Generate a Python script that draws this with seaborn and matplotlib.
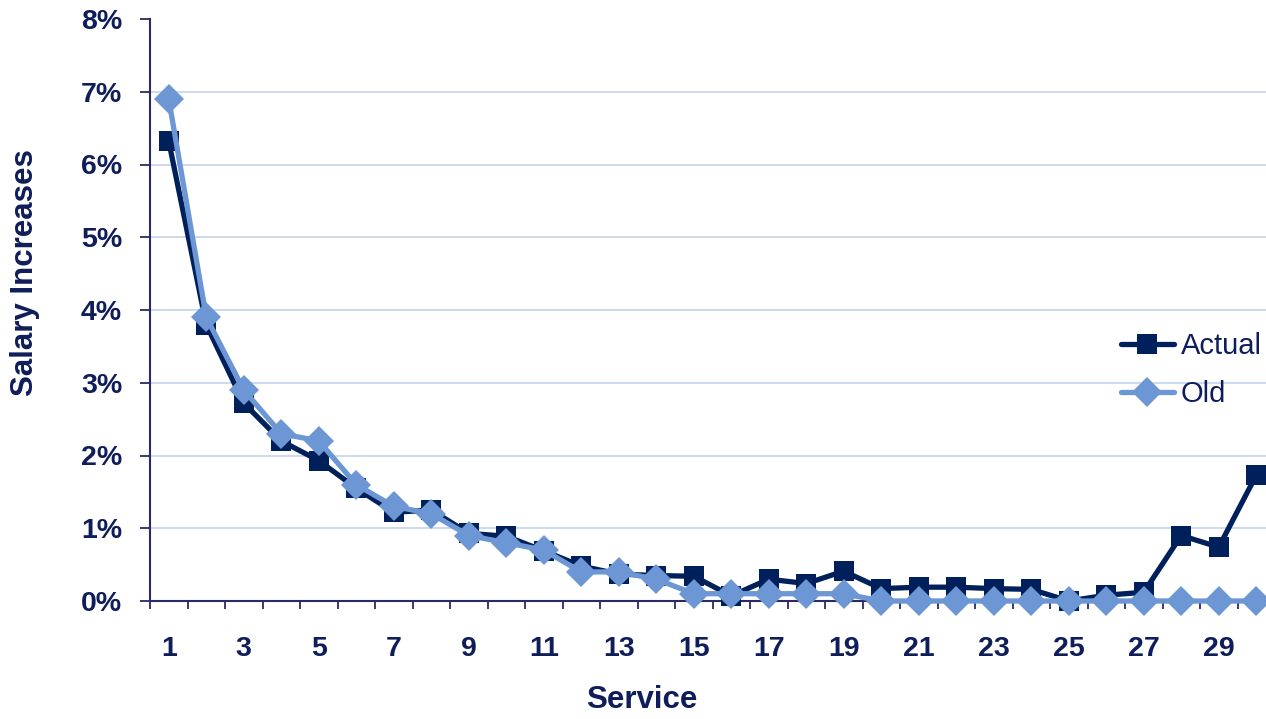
import matplotlib
matplotlib.use("Agg")
import matplotlib.pyplot as plt
from matplotlib.lines import Line2D
from matplotlib.ticker import FixedLocator, FuncFormatter
import numpy as np
import pandas as pd
import seaborn as sns

# Years of service (1..30) and salary increase rates in percent
service = list(range(1, 31))
actual = [6.32, 3.80, 2.72, 2.20, 1.93, 1.55, 1.22, 1.25, 0.93, 0.89,
          0.69, 0.48, 0.37, 0.35, 0.34, 0.07, 0.30, 0.24, 0.41, 0.17,
          0.19, 0.19, 0.17, 0.16, 0.00, 0.08, 0.12, 0.90, 0.74, 1.73]
old = [6.90, 3.90, 2.90, 2.30, 2.20, 1.60, 1.30, 1.20, 0.90, 0.80,
       0.70, 0.40, 0.40, 0.30, 0.10, 0.10, 0.10, 0.10, 0.10, 0.00,
       0.00, 0.00, 0.00, 0.00, 0.00, 0.00, 0.00, 0.00, 0.00, 0.00]
series_names = ["Actual", "Old"]
y_ticks = [0, 1, 2, 3, 4, 5, 6, 7, 8]

NAVY = "#00205B"
LIGHT = "#6C96D4"
TEXT = "#0F1E5A"
AXIS = "#2A2A64"
GRID = "#C8D7EE"

LW = 3.8
MS_SQ = 14.5
MS_DI = 15

df = pd.DataFrame({
    "pos": list(range(len(service))) * 2,
    "value": actual + old,
    "series": [series_names[0]] * len(service) + [series_names[1]] * len(service),
})

sns.set_theme(style="white")
plt.rcParams["font.family"] = ["Liberation Sans", "DejaVu Sans"]

fig = plt.figure(figsize=(12.66, 7.19), dpi=100)
ax = fig.add_axes([150 / 1266, 1 - 601 / 719, 1125 / 1266, 582 / 719])

sns.lineplot(
    data=df[df["series"] == "Actual"], x="pos", y="value",
    color=NAVY, marker="s", linewidth=LW, markersize=MS_SQ,
    markeredgewidth=0, legend=False, clip_on=False, zorder=3, ax=ax,
)
sns.lineplot(
    data=df[df["series"] == "Old"], x="pos", y="value",
    color=LIGHT, marker="D", linewidth=LW, markersize=MS_DI,
    markeredgewidth=0, legend=False, clip_on=False, zorder=4, ax=ax,
)

ax.set_xlim(-0.5, len(service) - 0.5)
ax.set_ylim(0, 8)

# Horizontal gridlines at each whole percent
for v in y_ticks[1:-1]:
    ax.axhline(v, color=GRID, linewidth=1.3, zorder=0)

ax.set_yticks(y_ticks)
ax.yaxis.set_major_formatter(FuncFormatter(lambda v, _: f"{v:.0f}%"))
ax.tick_params(axis="y", which="major", direction="out", length=7, width=1.3,
               color=AXIS, pad=13, labelsize=20.5, labelcolor=TEXT, left=True)

# Category labels on every other service year, tick marks between categories
label_pos = list(range(0, len(service), 2))
ax.xaxis.set_major_locator(FixedLocator(label_pos))
ax.set_xticklabels([str(service[i]) for i in label_pos])
ax.xaxis.set_minor_locator(FixedLocator(np.arange(-0.5, len(service), 1.0)))
ax.tick_params(axis="x", which="major", length=0, pad=25, labelsize=20.5,
               labelcolor=TEXT, bottom=True)
ax.tick_params(axis="x", which="minor", direction="out", length=6, width=1.3,
               color=AXIS, bottom=True)
for lbl in ax.get_xticklabels() + ax.get_yticklabels():
    lbl.set_fontweight("bold")

for side in ["top", "right"]:
    ax.spines[side].set_visible(False)
for side in ["left", "bottom"]:
    ax.spines[side].set_color(AXIS)
    ax.spines[side].set_linewidth(1.5)
    ax.spines[side].set_zorder(2)

ax.set_xlabel("")
ax.set_ylabel("")
fig.text(25 / 1266, 1 - 273 / 719, "Salary Increases", rotation=90,
         ha="center", va="center", fontsize=22.5, fontweight="bold", color=TEXT)
fig.text(642 / 1266, 1 - 700 / 719, "Service", ha="center", va="center",
         fontsize=22.5, fontweight="bold", color=TEXT)

handles = [
    Line2D([], [], color=NAVY, linewidth=LW, marker="s", markersize=MS_SQ, markeredgewidth=0),
    Line2D([], [], color=LIGHT, linewidth=LW, marker="D", markersize=MS_DI, markeredgewidth=0),
]
leg = ax.legend(handles, series_names, loc="center left",
                bbox_to_anchor=(1121 / 1266, 1 - 370 / 719),
                bbox_transform=fig.transFigure, frameon=False, fontsize=21,
                handlelength=1.8, handletextpad=0.25, labelspacing=0.68,
                borderaxespad=0, borderpad=0)
for t in leg.get_texts():
    t.set_color(TEXT)

fig.savefig("out.png", dpi=100)
